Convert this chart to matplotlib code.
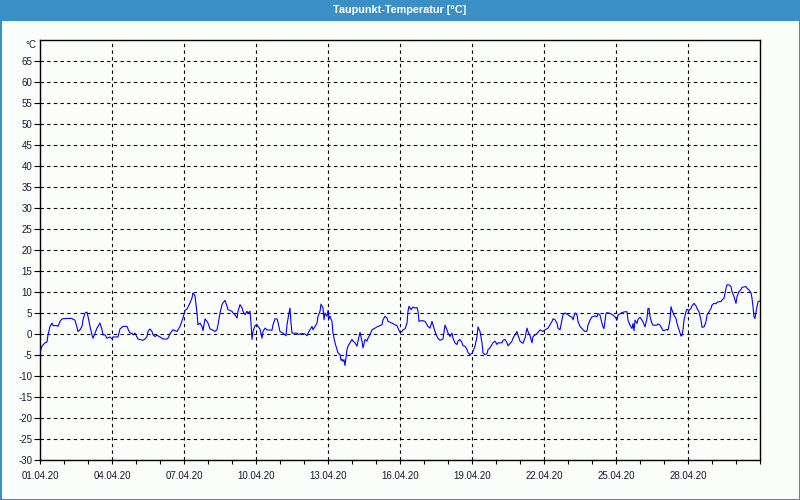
import matplotlib
matplotlib.use("Agg")
import matplotlib.pyplot as plt
from matplotlib.patches import Rectangle
from matplotlib.ticker import MultipleLocator
import numpy as np

# ---- data: hours since 01.04.20 00:00 and dew point in °C ----
hours_a = [0,2,5,7,8,10,12,13,17,18,20,22,27,32,33,35,37,38,40,42,43,45,47,48,50,52,53,55,57,60,62,63,65,67,70,72,73,78,80,83,87,88,90,92,93,95,97,98,103,105,107,108,110,112,113,115,117,120,123,127,128,130,133,137,138,140,143,145,147,148,150,152,153,155,157,158,160,162,163,165,167,168]
dew_a = [-4.4,-2.9,-2.1,-1.9,-0.2,1.8,2.6,2.0,2.0,1.8,3.0,3.6,3.7,3.7,3.5,3.3,1.6,0.6,1.0,1.8,3.4,5.0,5.2,4.2,1.8,-0.2,-1.0,0.2,1.4,2.6,1.0,-0.2,-0.2,-1.0,-0.7,-1.2,-0.7,-0.7,1.2,1.8,1.8,1.2,0.2,0.2,-0.2,0.2,-0.7,-1.2,-1.5,-1.2,-0.6,0.6,1.2,0.6,-0.2,-0.6,-0.3,-0.7,-1.2,-1.2,-1.0,0.1,1.0,0.6,1.0,1.8,3.8,5.6,6.0,6.4,7.4,8.6,9.8,9.1,5.0,2.2,2.6,1.8,0.8,3.6,3.0,2.6]

hours_b = [170,173,175,177,178,180,182,183,185,187,188,192,193,195,197,198,200,202,203,205,207,208,210,211,212,213,215,217,218,220,222,223,225,227,232,233,235,237,238,240,243,246,247,249,250,251,252,257,258,262,265,267,268,270,272,273,275,277,278,280,281,283,284,285,287,288,289,290,292,293,295,297,298,300,301,302,303,304,305,307,308,310,312,313,315,317,318,320,322,323,325,327,328,330,332,335,338,342,343,345,347,348,352,355,357,358]
dew_b = [1.2,0.9,0.6,1.0,2.2,5.0,7.0,7.4,8.0,6.6,5.8,5.4,5.0,4.6,3.8,5.4,7.0,6.2,5.4,4.6,5.4,5.0,5.4,2.6,-1.3,0.6,2.0,2.2,1.8,1.2,-1.0,0.6,1.4,1.0,0.9,2.2,3.6,3.6,2.8,0.6,0.2,-0.4,2.2,5.0,6.2,2.6,0.2,0.2,-0.1,0.1,0.0,-0.4,0.2,1.0,1.8,1.0,1.8,2.6,4.2,5.4,7.1,6.2,3.4,5.0,4.2,5.6,3.6,4.2,3.0,0.2,-2.1,-3.7,-4.5,-4.9,-6.3,-6.0,-6.5,-6.1,-7.5,-3.7,-2.9,-2.1,-1.3,-1.7,-2.1,-2.9,-1.7,0.4,-1.7,-3.3,-1.3,-1.7,-1.0,-0.2,1.0,1.4,1.8,2.2,3.4,4.2,3.8,3.0,2.6,2.2,2.0,1.4]

hours_c = [360,362,363,365,367,368,369,371,373,375,377,378,379,382,385,388,390,392,393,395,397,398,400,403,405,407,408,410,412,413,415,417,418,420,422,423,425,427,428,430,432,433,435,437,438,440,442,443,445,447,448,450,452,453,455,457,458,462,463,465,467,468,470,472,473,475,477,478,480,482,483,485,487,488,490,492,493,497,500,503,505,508,512,513,515,517,518,520,522,523,525,528,530,532,533,535,537,538]
dew_c = [0.4,0.6,1.0,1.2,2.6,5.4,6.6,5.8,6.4,6.2,6.3,5.4,3.0,3.2,3.0,1.8,1.4,3.0,2.2,0.6,-0.6,-1.0,-1.5,-1.2,2.1,1.0,0.2,-0.6,0.2,-1.0,-2.1,-2.5,-1.7,-1.3,-2.1,-2.8,-2.9,-3.7,-4.4,-4.9,-4.6,-4.1,-2.9,-0.6,1.7,0.6,-2.1,-4.5,-4.9,-4.7,-3.7,-3.3,-2.5,-2.1,-1.7,-2.5,-2.1,-2.1,-1.5,-1.3,-2.1,-2.8,-2.3,-1.7,-1.0,-0.2,0.6,-0.2,-1.7,-2.1,-2.2,-1.0,1.4,0.6,-0.4,-2.1,-0.6,0.1,1.0,0.6,1.0,1.4,3.0,3.6,3.4,2.6,1.4,1.0,3.4,4.6,5.0,4.6,4.2,4.0,3.4,5.0,4.6,3.0]

hours_d = [540,543,545,547,548,550,552,555,557,558,560,562,563,564,566,567,570,573,575,577,578,582,585,587,588,590,592,593,594,595,597,598,600,602,603,605,607,608,609,610,612,613,617,618,620,622,623,625,627,628,630,631,632,634,636,637,639,641,642,643,644,646,647,649,651,652,654,656,657,659,661,662,664,666,667,669,671,672,674,676,677,679,681,682,684,686,687,689,691,692,694,696,697,699,701,702,706,707,709,711,712,713,714,715,716,717,718,720]
dew_d = [1.8,1.0,0.6,0.7,2.1,3.3,4.1,4.3,4.1,4.9,4.5,2.5,1.7,1.3,4.9,5.1,4.9,4.5,4.1,3.3,4.5,5.1,5.3,5.3,3.3,2.1,1.3,2.5,0.8,3.3,2.5,3.5,4.0,3.3,2.9,1.7,3.7,6.1,6.1,4.1,2.5,2.1,2.1,2.4,2.1,1.3,0.8,0.9,1.1,0.9,3.3,6.5,5.7,4.5,3.7,2.5,1.0,-0.5,-0.3,1.0,3.3,5.3,5.9,5.6,6.1,6.7,7.3,6.7,6.1,5.3,3.3,1.6,1.7,2.9,4.5,5.3,6.1,6.9,7.3,7.2,7.5,7.7,7.7,8.1,8.5,10.9,11.7,11.7,11.3,10.1,8.9,7.3,8.9,10.1,10.6,11.1,11.3,10.9,10.5,9.8,8.5,6.5,4.1,3.7,5.3,6.5,7.7,7.9]

date_labels = ["01.04.20", "04.04.20", "07.04.20", "10.04.20", "13.04.20",
               "16.04.20", "19.04.20", "22.04.20", "25.04.20", "28.04.20"]
y_ticks = list(range(-30, 70, 5))
title_text = "Taupunkt-Temperatur [°C]"
unit_label = "°C"

hours = np.array(hours_a + hours_b + hours_c + hours_d, dtype=float)
dew = np.array(dew_a + dew_b + dew_c + dew_d, dtype=float)
days = hours / 24.0

BLUE = "#3b8fc7"
BG = "#fbfdfb"
TXT = "#1a1a33"
FONT = ["Liberation Sans", "DejaVu Sans"]

fig = plt.figure(figsize=(8, 5), dpi=100, facecolor=BG)
ax = fig.add_axes([40 / 800, 40 / 500, 720 / 800, 420 / 500])
ax.set_facecolor(BG)

ax.plot(days, dew, color="#0000ff", lw=0.8, zorder=3)

ax.set_xlim(0, 30)
ax.set_ylim(-30, 70)

ax.set_yticks(y_ticks)
ax.set_yticklabels([str(v) for v in y_ticks], family=FONT, fontsize=7, color=TXT)
major_days = [3 * i for i in range(len(date_labels))]
ax.set_xticks(major_days)
ax.set_xticklabels(date_labels, family=FONT, fontsize=7, color=TXT)
ax.xaxis.set_minor_locator(MultipleLocator(1))

ax.tick_params(axis="x", which="both", direction="out", length=3, width=0.8, pad=5)
ax.tick_params(axis="y", which="both", direction="out", length=4, width=0.8, pad=1.5)

ax.grid(True, which="major", color="black", linestyle=(0, (3, 3)), lw=0.8, zorder=1)
for s in ax.spines.values():
    s.set_color("black")
    s.set_linewidth(1.0)

fig.text(36.5 / 800, 1 - 45 / 500, unit_label, ha="right", va="center",
         fontsize=7, color=TXT, family=FONT)

# title bar and frame
fig.patches.append(Rectangle((0, 1 - 21 / 500), 1, 21 / 500, transform=fig.transFigure,
                             facecolor=BLUE, edgecolor="none", zorder=0))
fig.patches.append(Rectangle((0, 0), 1, 1, transform=fig.transFigure, fill=False,
                             edgecolor=BLUE, lw=2.2, zorder=5))
fig.text(0.5, 1 - 10 / 500, title_text, ha="center", va="center", color="white",
         fontweight="bold", fontsize=7.8, family=FONT)

fig.savefig("out.png", dpi=100, facecolor=fig.get_facecolor())
